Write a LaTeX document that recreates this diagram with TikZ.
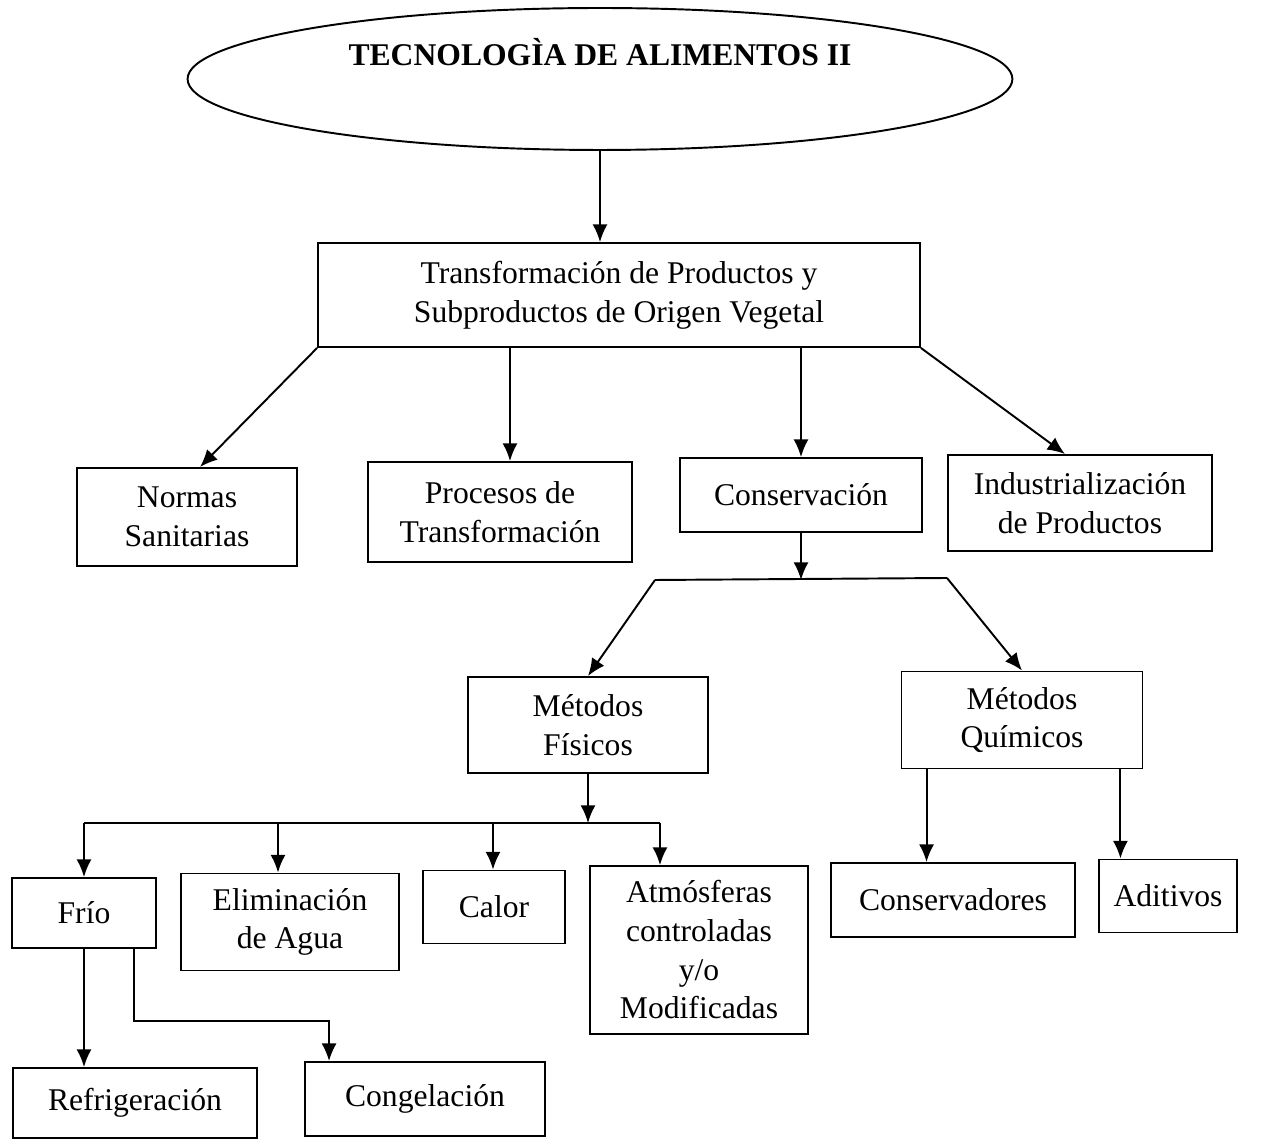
\documentclass[tikz,border=0pt]{standalone}
\usepackage{fontspec}
\setmainfont{Liberation Serif}
\usetikzlibrary{shapes.geometric, arrows.meta}
\tikzset{%
  every picture/.style={line width=1.1pt}, % the scan has rather heavy strokes
  >={Latex[length=10pt, width=8.5pt]},
  box/.style={draw, rectangle, align=center, inner sep=2pt,
    font=\fontsize{18}{22}\selectfont},
  head/.style={draw, ellipse, inner sep=2pt,
    font=\fontsize{18}{22}\selectfont\bfseries}
}

\begin{document}
\begin{tikzpicture}[x=0.02cm, y=-0.02cm]
  \useasboundingbox (0,0) rectangle (1269,1141);

  \node[head, minimum width=16.5cm, minimum height=2.84cm, text depth=1.1cm] (titulo) at (600,79) {TECNOLOGÌA DE ALIMENTOS II};

  \node[box, minimum width=12.04cm, minimum height=2.08cm] (transf) at (619,295) {Transformación de Productos y\\Subproductos de Origen Vegetal};

  \node[box, minimum width=4.4cm, minimum height=1.96cm] (normas) at (187,517) {Normas\\Sanitarias};
  \node[box, minimum width=5.28cm, minimum height=2.0cm] (procesos) at (500,512) {Procesos de\\Transformación};
  \node[box, minimum width=4.84cm, minimum height=1.48cm] (conserv) at (801,495) {Conservación};
  \node[box, minimum width=5.28cm, minimum height=1.92cm] (indus) at (1080,503) {Industrialización\\de Productos};

  \node[box, minimum width=4.8cm, minimum height=1.92cm] (fisicos) at (588,725) {Métodos\\Físicos};
  \node[box, minimum width=4.82cm, minimum height=1.94cm] (quimicos) at (1022,720) {Métodos\\Químicos};

  \node[box, minimum width=2.88cm, minimum height=1.4cm] (frio) at (84,913) {Frío};
  \node[box, minimum width=4.36cm, minimum height=1.94cm] (elim) at (290,922) {Eliminación\\de Agua};
  \node[box, minimum width=2.84cm, minimum height=1.46cm] (calor) at (494,907) {Calor};
  \node[box, minimum width=4.36cm, minimum height=3.36cm] (atmos) at (699,950) {Atmósferas\\controladas\\y/o\\Modificadas};
  \node[box, minimum width=4.88cm, minimum height=1.48cm] (conservad) at (953,900) {Conservadores};
  \node[box, minimum width=2.76cm, minimum height=1.46cm] (aditivos) at (1168,896) {Aditivos};

  \node[box, minimum width=4.88cm, minimum height=1.4cm] (refrig) at (135,1103) {Refrigeración};
  \node[box, minimum width=4.8cm, minimum height=1.48cm] (congel) at (425,1099) {Congelación};

  % junction points of the branching lines
  \coordinate (jl) at (655,580);
  \coordinate (jr) at (947,578);
  \coordinate (bl) at (84,823);
  \coordinate (b2) at (278,823);
  \coordinate (b3) at (493,823);
  \coordinate (br) at (660,823);

  \draw[->] (titulo.south) -- (titulo.south |- transf.north);
  \draw[->] (transf.south west) -- ([xshift=0.26cm]normas.north);
  \draw[->] ([xshift=0.2cm]procesos.north |- transf.south) -- ([xshift=0.2cm]procesos.north);
  \draw[->] (conserv.north |- transf.south) -- (conserv.north);
  \draw[->] (transf.south east) -- ([xshift=-0.3cm]indus.north);

  \draw (jl) -- (jr);
  \draw[->] (conserv.south) -- (conserv.south |- jl);
  \draw[->] (jl) -- (fisicos.north);
  \draw[->] (jr) -- (quimicos.north);

  \draw (bl) -- (br);
  \draw[->] (fisicos.south) -- (fisicos.south |- bl);
  \draw[->] (bl) -- (frio.north);
  \draw[->] (b2) -- (b2 |- elim.north);
  \draw[->] (b3) -- (b3 |- calor.north);
  \draw[->] (br) -- (br |- atmos.north);

  \draw[->] ([xshift=0.52cm]quimicos.south west) -- ([xshift=0.52cm]quimicos.south west |- conservad.north);
  \draw[->] ([xshift=-0.46cm]quimicos.south east) -- ([xshift=-0.46cm]quimicos.south east |- aditivos.north);

  \draw[->] (frio.south) -- (frio.south |- refrig.north);
  \draw[->] ([xshift=-0.46cm]frio.south east) -- ++(0,-1.44cm) -| ([xshift=0.5cm]congel.north west);
\end{tikzpicture}
\end{document}
